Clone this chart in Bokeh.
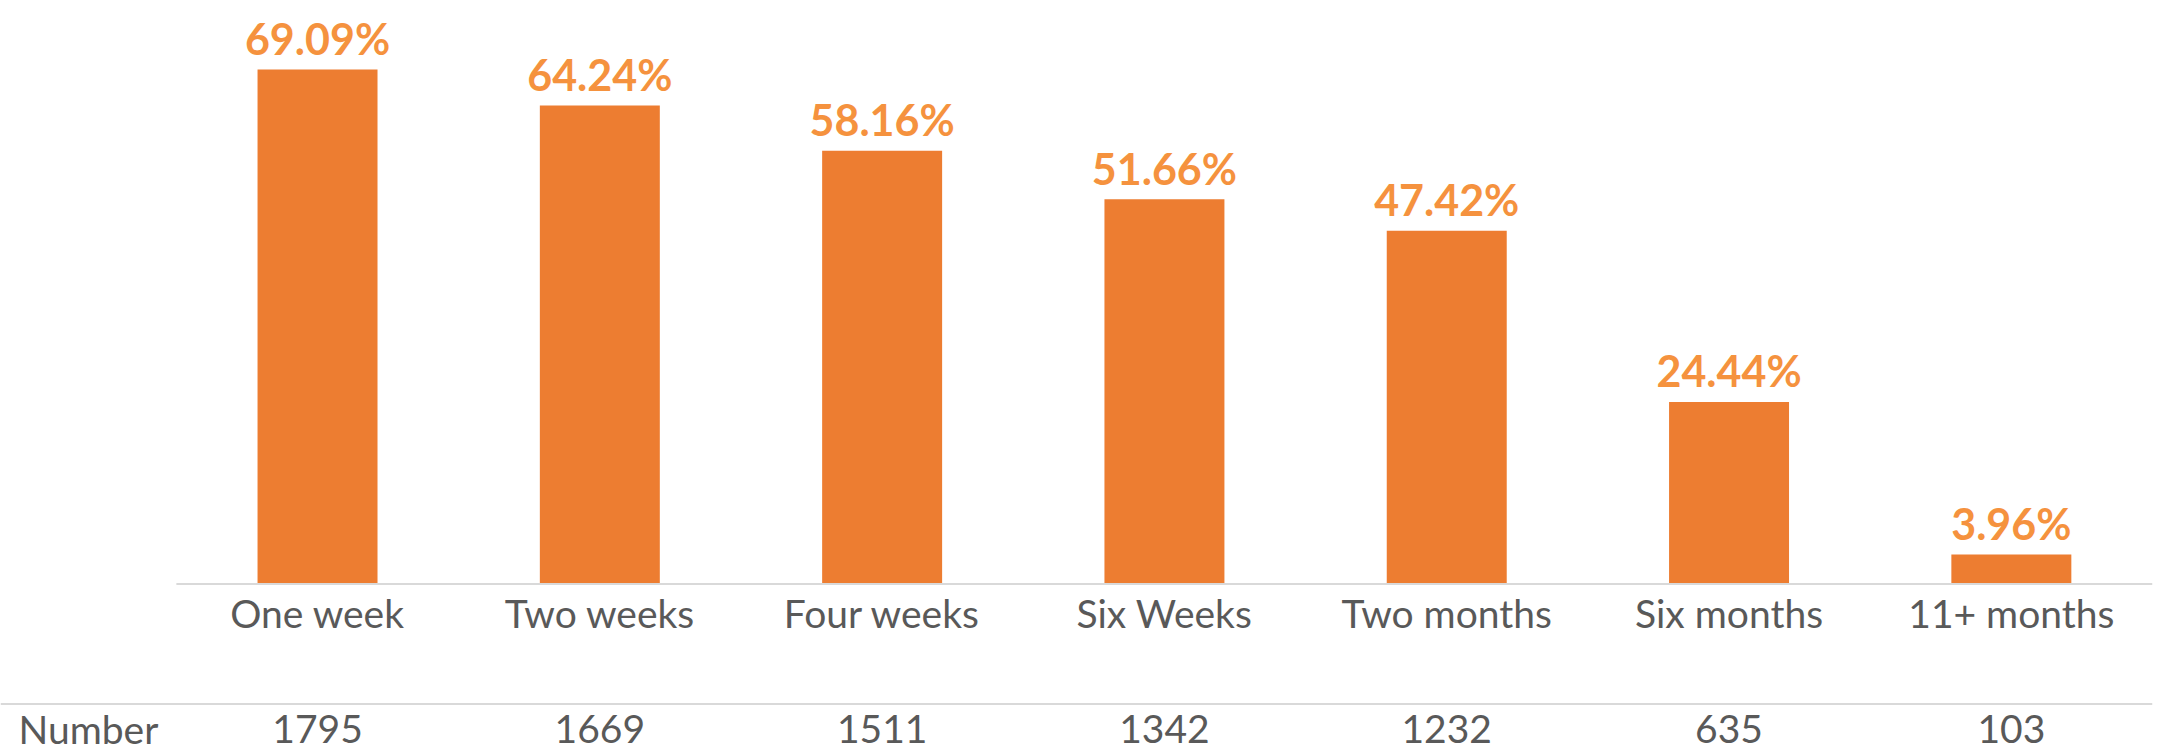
from bokeh.plotting import figure
from bokeh.models import Range1d, ColumnDataSource, Span
from bokeh.core.properties import value
from bokeh.embed import file_html
from bokeh.resources import INLINE

categories = ["One week", "Two weeks", "Four weeks", "Six Weeks", "Two months", "Six months", "11+ months"]
percents = [69.09, 64.24, 58.16, 51.66, 47.42, 24.44, 3.96]
numbers = [1795, 1669, 1511, 1342, 1232, 635, 103]
row_title = "Number"

BAR = "#ED7D31"
LABEL = "#F5923E"
GREY = "#595959"
LINE = "#D9D9D9"
FONT = "Lato"

W, H = 2160, 752
n = len(categories)
idx = list(range(n))
x_start, x_end = -1.123, n - 0.5
y_start, y_end = -22.63, 78.35
px_per_unit_y = H / (y_end - y_start)
px_per_unit_x = (W - 8) / (x_end - x_start)

src = ColumnDataSource(dict(
    x=idx,
    pct=percents,
    cat=categories,
    pct_txt=[f"{v:.2f}%" for v in percents],
    num_txt=[str(v) for v in numbers],
    zero=[0] * n,
))

p = figure(width=W, height=H, output_backend="svg", toolbar_location=None,
           x_range=Range1d(x_start, x_end), y_range=Range1d(y_start, y_end),
           min_border_left=0, min_border_right=8, min_border_top=0, min_border_bottom=0)
p.axis.visible = False
p.grid.visible = False
p.outline_line_color = None
p.background_fill_color = "white"
p.border_fill_color = "white"

p.vbar(x="x", top="pct", bottom=0, width=0.425, source=src, fill_color=BAR, line_color=None)

# baseline under bars
p.segment(x0=[-0.5], y0=[0], x1=[n - 0.5], y1=[0], line_color=LINE, line_width=2)
# separator line above the number row
p.add_layout(Span(location=-120 / px_per_unit_y, dimension="width", line_color=LINE, line_width=2))

p.text(x="x", y="pct", text="pct_txt", source=src, text_align="center", text_baseline="alphabetic",
       y_offset=-31, text_font=value(FONT), text_font_style="bold", text_font_size="43px", text_color=LABEL)
p.text(x="x", y="zero", text="cat", source=src, text_align="center", text_baseline="alphabetic",
       y_offset=29, text_font=value(FONT), text_font_size="39px", text_color=GREY)
p.text(x="x", y="zero", text="num_txt", source=src, text_align="center", text_baseline="alphabetic",
       y_offset=145, text_font=value(FONT), text_font_size="39px", text_color=GREY)
p.text(x=[x_start + 18 / px_per_unit_x], y=[0], text=[row_title], text_align="left", text_baseline="alphabetic",
       y_offset=145, text_font=value(FONT), text_font_size="39px", text_color=GREY)

open("out.html", "w").write(file_html(p, INLINE))
